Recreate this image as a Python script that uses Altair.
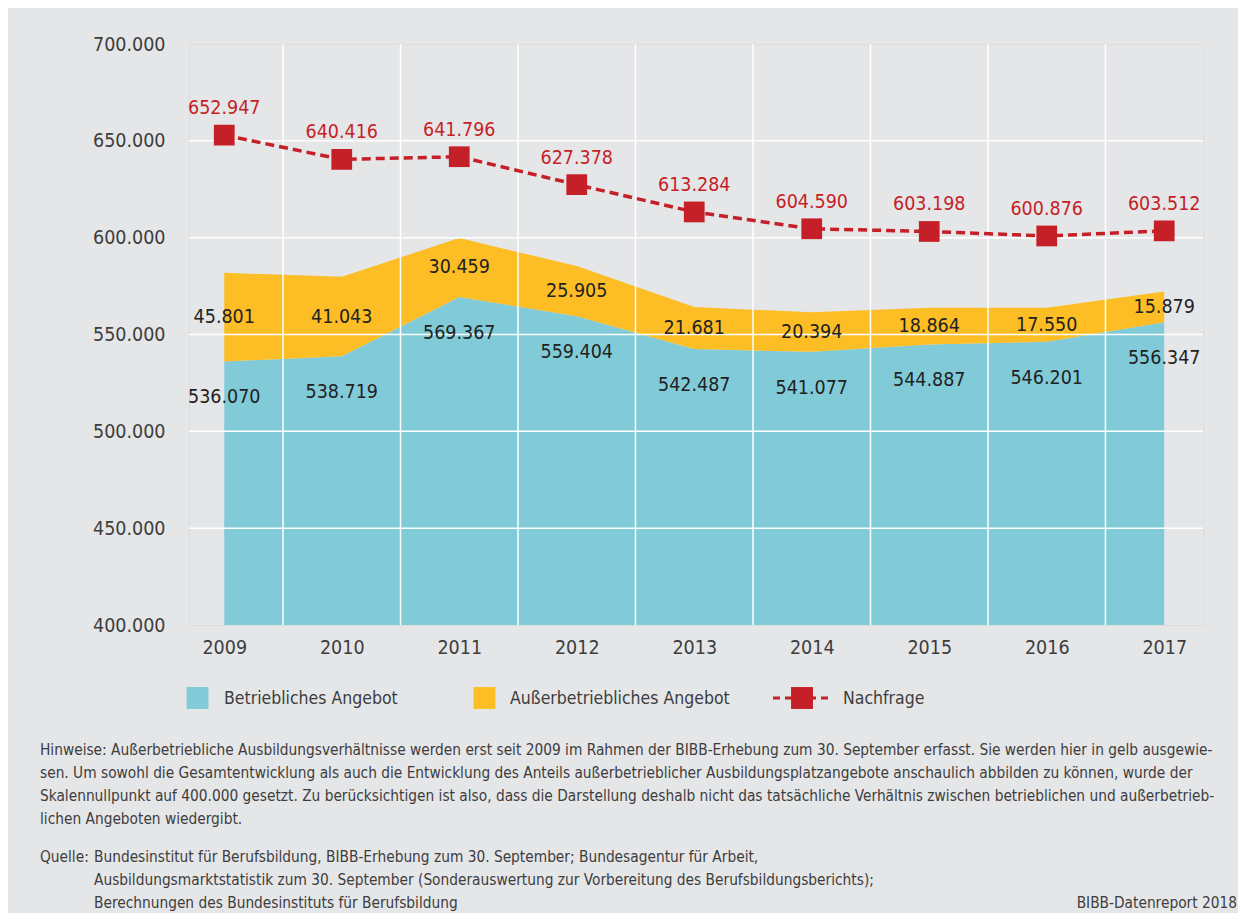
import altair as alt
import pandas as pd

# ---------------- data ----------------
years = [2009, 2010, 2011, 2012, 2013, 2014, 2015, 2016, 2017]
betrieblich = [536070, 538719, 569367, 559404, 542487, 541077, 544887, 546201, 556347]
ausserbetrieblich = [45801, 41043, 30459, 25905, 21681, 20394, 18864, 17550, 15879]
nachfrage = [652947, 640416, 641796, 627378, 613284, 604590, 603198, 600876, 603512]
y_ticks = [400000, 450000, 500000, 550000, 600000, 650000, 700000]
legend_labels = ["Betriebliches Angebot", "Außerbetriebliches Angebot", "Nachfrage"]
hinweise_lines = [
    "Hinweise: Außerbetriebliche Ausbildungsverhältnisse werden erst seit 2009 im Rahmen der BIBB-Erhebung zum 30. September erfasst. Sie werden hier in gelb ausgewie-",
    "sen. Um sowohl die Gesamtentwicklung als auch die Entwicklung des Anteils außerbetrieblicher Ausbildungsplatzangebote anschaulich abbilden zu können, wurde der",
    "Skalennullpunkt auf 400.000 gesetzt. Zu berücksichtigen ist also, dass die Darstellung deshalb nicht das tatsächliche Verhältnis zwischen betrieblichen und außerbetrieb-",
    "lichen Angeboten wiedergibt.",
]
quelle_head = "Quelle:"
quelle_lines = [
    "Bundesinstitut für Berufsbildung, BIBB-Erhebung zum 30. September; Bundesagentur für Arbeit,",
    "Ausbildungsmarktstatistik zum 30. September (Sonderauswertung zur Vorbereitung des Berufsbildungsberichts);",
    "Berechnungen des Bundesinstituts für Berufsbildung",
]
credit = "BIBB-Datenreport 2018"


def de(n):
    return f"{int(round(n)):,}".replace(",", ".")


df = pd.DataFrame({
    "jahr": years,
    "betr": betrieblich,
    "auss": ausserbetrieblich,
    "nach": nachfrage,
})
df["gesamt"] = df["betr"] + df["auss"]
df["mitte"] = df["betr"] + df["auss"] / 2
df["betr_lbl"] = df["betr"].map(de)
df["auss_lbl"] = df["auss"].map(de)
df["nach_lbl"] = df["nach"].map(de)

grid_x = pd.DataFrame({"gx": [y + 0.5 for y in years[:-1]]})
grid_y = pd.DataFrame({"gy": y_ticks[1:-1]})

# ---------------- style ----------------
FONT = "DejaVu Sans Condensed"
TEAL = "#81cbd8"
YELLOW = "#fdbd24"
RED = "#c51f27"
TXT = "#3d3d3d"
DARK = "#222222"
W, H = 1014, 581
BASE = y_ticks[0]
NUM = 19.5
LEGF = 17.5
FNF = 15.3

xs = alt.Scale(domain=[2008.7, 2017.33], nice=False, zero=False)
ys = alt.Scale(domain=[y_ticks[0], y_ticks[-1]], nice=False, zero=False)

x_axis = alt.Axis(values=years, format="d", grid=False, ticks=False, domain=False,
                  labelFontSize=NUM, labelColor=TXT, labelPadding=13, labelFont=FONT)
y_axis = alt.Axis(values=y_ticks, grid=False, ticks=False, domain=False,
                  labelExpr="replace(format(datum.value, ','), ',', '.')",
                  labelFontSize=NUM, labelColor=TXT, labelPadding=24, labelFont=FONT)

X = alt.X("jahr:Q", scale=xs, axis=x_axis, title=None)

base = alt.Chart(df)

area_b = base.mark_area(color=TEAL, opacity=1).encode(
    x=X, y=alt.Y("betr:Q", scale=ys, axis=y_axis, title=None), y2=alt.datum(BASE))
area_a = base.mark_area(color=YELLOW, opacity=1).encode(
    x=X, y=alt.Y("gesamt:Q", scale=ys, title=None), y2="betr:Q")

vgrid = alt.Chart(grid_x).mark_rule(color="white", strokeWidth=1.5).encode(
    x=alt.X("gx:Q", scale=xs), y=alt.datum(y_ticks[-1]), y2=alt.datum(y_ticks[0]))
hgrid = alt.Chart(grid_y).mark_rule(color="white", strokeWidth=1.5).encode(
    y=alt.Y("gy:Q", scale=ys))

line = base.mark_line(color=RED, strokeDash=[9, 5], strokeWidth=3.5).encode(
    x=X, y=alt.Y("nach:Q", scale=ys))
pts = base.mark_square(color=RED, size=430, opacity=1).encode(
    x=X, y=alt.Y("nach:Q", scale=ys))

lbl_n = base.mark_text(color=RED, fontSize=NUM, font=FONT, dy=-27).encode(
    x=X, y=alt.Y("nach:Q", scale=ys), text="nach_lbl:N")
lbl_b = base.mark_text(color=DARK, fontSize=NUM, font=FONT, dy=36).encode(
    x=X, y=alt.Y("betr:Q", scale=ys), text="betr_lbl:N")
lbl_a = base.mark_text(color=DARK, fontSize=NUM, font=FONT).encode(
    x=X, y=alt.Y("mitte:Q", scale=ys), text="auss_lbl:N")

# ---------------- legend (drawn below the plot) ----------------
LEG_Y = 654
leg = []
leg_df = pd.DataFrame({"t": legend_labels})
for i, (sx, tx, col) in enumerate([(8.5, 35, TEAL), (295.5, 321, YELLOW), (613, 654, RED)]):
    d = alt.Chart(leg_df.iloc[[i]])
    if i == 2:
        leg.append(d.mark_rule(color=RED, strokeWidth=3, strokeDash=[7, 5]).encode(
            x=alt.value(sx - 29), x2=alt.value(sx + 29), y=alt.value(LEG_Y)))
    leg.append(d.mark_square(color=col, size=480, opacity=1).encode(
        x=alt.value(sx), y=alt.value(LEG_Y)))
    leg.append(d.mark_text(align="left", baseline="middle", fontSize=LEGF, font=FONT, color=TXT).encode(
        x=alt.value(tx), y=alt.value(LEG_Y + 1), text="t:N"))

# ---------------- footnotes ----------------
fn = []
fn.append(alt.Chart(pd.DataFrame({"t": ["\n".join(hinweise_lines)]})).mark_text(
    align="left", baseline="top", fontSize=FNF, font=FONT, color=TXT, lineBreak="\n", lineHeight=23
).encode(x=alt.value(-149), y=alt.value(699), text="t:N"))
fn.append(alt.Chart(pd.DataFrame({"t": [quelle_head]})).mark_text(
    align="left", baseline="top", fontSize=FNF, font=FONT, color=TXT
).encode(x=alt.value(-149), y=alt.value(806), text="t:N"))
fn.append(alt.Chart(pd.DataFrame({"t": ["\n".join(quelle_lines)]})).mark_text(
    align="left", baseline="top", fontSize=FNF, font=FONT, color=TXT, lineBreak="\n", lineHeight=23
).encode(x=alt.value(-95), y=alt.value(806), text="t:N"))
fn.append(alt.Chart(pd.DataFrame({"t": [credit]})).mark_text(
    align="right", baseline="top", fontSize=FNF, font=FONT, color=TXT
).encode(x=alt.value(1048), y=alt.value(852), text="t:N"))

chart = alt.layer(
    area_b, area_a, vgrid, hgrid, line, pts, lbl_n, lbl_b, lbl_a, *leg, *fn
).properties(
    width=W, height=H,
    background="#e5e6e8",
    padding={"left": 181, "top": 36, "right": 35, "bottom": 288},
    autosize=alt.AutoSizeParams(type="none"),
).configure_view(fill="#d1d2d4", strokeWidth=0).configure(font=FONT)

chart.save("out.html", embed_options={"renderer": "svg", "actions": False})
